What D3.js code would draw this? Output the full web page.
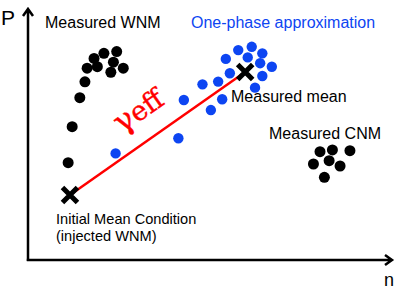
<!DOCTYPE html>
<html>
<head>
<meta charset="utf-8">
<script src="https://cdn.jsdelivr.net/npm/d3@7"></script>
<style>
    body { margin: 0; background: #fff; }
    text { font-family: "Liberation Sans", Arial, sans-serif; }
</style>
</head>
<body>
<div id="chart"></div>
<script>
(function () {
    'use strict';

    // measured WNM cloud [n, P]
    var wnmPoints = [
        [2.43, 8.27], [2.08, 8.20], [1.81, 8.00], [2.34, 7.85], [1.90, 7.67], [1.62, 7.61],
        [2.61, 7.61], [2.27, 7.45], [1.56, 7.07], [1.42, 6.44], [1.21, 5.29], [1.10, 3.86]
    ];
    // one-phase approximation
    var onePhasePoints = [
        [5.76, 8.33], [6.13, 8.46], [6.42, 8.20], [5.42, 7.98], [6.02, 8.04], [6.36, 7.81],
        [6.68, 7.67], [5.53, 7.41], [6.42, 7.30], [6.22, 6.84], [4.78, 6.97], [5.21, 7.08],
        [4.27, 6.35], [5.32, 6.38], [5.01, 5.95], [4.12, 4.83], [2.40, 4.23]
    ];
    // measured CNM cloud
    var cnmPoints = [
        [8.00, 4.30], [8.34, 4.37], [8.82, 4.34], [8.25, 3.94], [7.82, 3.81], [8.55, 3.73], [8.12, 3.28]
    ];
    var initialMean = [1.15, 2.58];
    var measuredMean = [5.95, 7.46];

    var width = 395;
    var height = 289;
    var blue = '#0d45f2';

    var x = d3.scaleLinear().domain([0, 10]).range([28, 393]);
    var y = d3.scaleLinear().domain([0, 10]).range([260, 8]);

    var svg = d3.select('#chart')
        .append('svg')
        .attr('width', width)
        .attr('height', height);

    // axes with open arrow heads
    var axes = svg.append('g')
        .attr('stroke', '#000')
        .attr('stroke-width', 2.5)
        .attr('fill', 'none');
    axes.append('path')
        .attr('d', 'M' + x(0) + ',' + (y(0) + 1) + 'V' + (y(10) + 1) +
            'M' + (x(0) - 5) + ',' + (y(10) + 8) + 'L' + x(0) + ',' + (y(10) + 1) + 'L' + (x(0) + 5) + ',' + (y(10) + 8));
    axes.append('path')
        .attr('d', 'M' + (x(0) - 1.2) + ',' + y(0) + 'H' + (x(10) - 1) +
            'M' + (x(10) - 8) + ',' + (y(0) - 5) + 'L' + (x(10) - 1) + ',' + y(0) + 'L' + (x(10) - 8) + ',' + (y(0) + 5));

    svg.append('text').attr('x', 1).attr('y', 25).attr('font-size', 21).text('P');
    svg.append('text').attr('x', 384).attr('y', 286).attr('font-size', 18).text('n');

    // effective gamma line
    svg.append('line')
        .attr('x1', x(initialMean[0])).attr('y1', y(initialMean[1]))
        .attr('x2', x(measuredMean[0])).attr('y2', y(measuredMean[1]))
        .attr('stroke', '#ff0000')
        .attr('stroke-width', 2.5);

    function drawDots(points, color, r) {
        svg.append('g').selectAll('circle')
            .data(points)
            .enter().append('circle')
            .attr('cx', function (d) { return x(d[0]); })
            .attr('cy', function (d) { return y(d[1]); })
            .attr('r', r)
            .attr('fill', color);
    }

    drawDots(wnmPoints, '#000', 5.5);
    drawDots(cnmPoints, '#000', 5.5);
    drawDots(onePhasePoints, blue, 5.2);

    function drawCross(p) {
        var cx = x(p[0]);
        var cy = y(p[1]);
        var h = 7.5;
        svg.append('path')
            .attr('d', 'M' + (cx - h) + ',' + (cy - h) + 'L' + (cx + h) + ',' + (cy + h) +
                'M' + (cx - h) + ',' + (cy + h) + 'L' + (cx + h) + ',' + (cy - h))
            .attr('stroke', '#000')
            .attr('stroke-width', 5);
    }

    drawCross(initialMean);
    drawCross(measuredMean);

    var angle = Math.atan2(y(measuredMean[1]) - y(initialMean[1]), x(measuredMean[0]) - x(initialMean[0])) * 180 / Math.PI;
    var gamma = svg.append('text')
        .attr('transform', 'translate(122,134) rotate(' + angle + ')')
        .attr('fill', '#ff0000')
        .attr('stroke', '#ff0000')
        .attr('stroke-width', 0.4)
        .style('font-family', '"DejaVu Serif", "Liberation Serif", serif');
    gamma.append('tspan').attr('font-size', 31).text('γ');
    gamma.append('tspan').attr('font-size', 27).text('eff');

    var labels = [
        { text: 'Measured WNM', x: 45, y: 28, size: 16, color: '#000' },
        { text: 'One-phase approximation', x: 191, y: 28, size: 16, color: blue },
        { text: 'Measured mean', x: 231, y: 102, size: 16, color: '#000' },
        { text: 'Measured CNM', x: 269, y: 139, size: 16, color: '#000' },
        { text: 'Initial Mean Condition', x: 56, y: 224, size: 14.6, color: '#000' },
        { text: '(injected WNM)', x: 56, y: 241, size: 14.6, color: '#000' }
    ];

    svg.append('g').selectAll('text')
        .data(labels)
        .enter().append('text')
        .attr('x', function (d) { return d.x; })
        .attr('y', function (d) { return d.y; })
        .attr('font-size', function (d) { return d.size; })
        .attr('fill', function (d) { return d.color; })
        .text(function (d) { return d.text; });
}());
</script>
</body>
</html>
